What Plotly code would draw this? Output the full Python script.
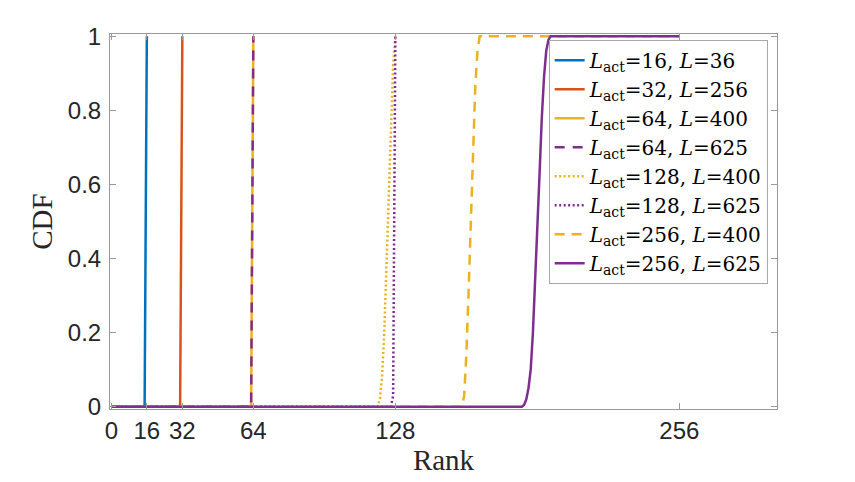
import plotly.graph_objects as go

# CDF of rank
rank_16_36 = [0, 15, 16]
cdf_16_36 = [0, 0, 1]

rank_32_256 = [0, 31, 32]
cdf_32_256 = [0, 0, 1]

rank_64_400 = [0, 63, 64]
cdf_64_400 = [0, 0, 1]

rank_64_625 = [0, 63, 64]
cdf_64_625 = [0, 0, 1]

rank_128_400 = [0, 120, 121, 122, 123, 124, 125, 126, 127, 128]
cdf_128_400 = [0, 0, 0.02, 0.08, 0.2, 0.38, 0.57, 0.76, 0.92, 1]

rank_128_625 = [0, 126, 127, 128]
cdf_128_625 = [0, 0, 0.03, 1]

rank_256_400 = [0, 158, 159, 160, 161, 162, 163, 164, 165, 166, 256]
cdf_256_400 = [0, 0, 0.03, 0.14, 0.31, 0.5, 0.7, 0.86, 0.96, 1, 1]

rank_256_625 = [0, 185, 186, 187, 188, 189, 190, 191, 192, 193, 194, 195, 196, 197, 198, 256]
cdf_256_625 = [0, 0, 0.005, 0.02, 0.05, 0.1, 0.2, 0.33, 0.48, 0.63, 0.78, 0.89, 0.96, 0.99, 1, 1]

x_ticks = [0, 16, 32, 64, 128, 256]
y_ticks = [0, 0.2, 0.4, 0.6, 0.8, 1]

BLUE = "#0072BD"
RED = "#D95319"
YELLOW = "#EDB120"
PURPLE = "#7E2F8E"

series = [
    (rank_16_36, cdf_16_36, 16, 36, BLUE, "solid"),
    (rank_32_256, cdf_32_256, 32, 256, RED, "solid"),
    (rank_64_400, cdf_64_400, 64, 400, YELLOW, "solid"),
    (rank_64_625, cdf_64_625, 64, 625, PURPLE, "10px,8px"),
    (rank_128_400, cdf_128_400, 128, 400, YELLOW, "2px,2.5px"),
    (rank_128_625, cdf_128_625, 128, 625, PURPLE, "2px,2.5px"),
    (rank_256_400, cdf_256_400, 256, 400, YELLOW, "10px,7px"),
    (rank_256_625, cdf_256_625, 256, 625, PURPLE, "solid"),
]

fig = go.Figure()
for xs, ys, lact, l, color, dash in series:
    fig.add_trace(go.Scatter(
        x=xs, y=ys, mode="lines",
        line=dict(color=color, width=2.5, dash=dash),
        name=f"<i>L</i><sub>act</sub>={lact},&nbsp;<i>L</i>={l}",
    ))

axis_style = dict(
    showgrid=False, zeroline=False, showline=True, mirror="ticks",
    linecolor="#9a9a9a", linewidth=1,
    ticks="inside", ticklen=6, tickcolor="#9a9a9a",
    tickfont=dict(family="Liberation Sans", size=24, color="#262626"),
)

fig.update_xaxes(
    range=[-0.6, 300], tickvals=x_ticks,
    title=dict(text="Rank", font=dict(family="Liberation Serif", size=29, color="#262626"),
               standoff=2),
    **axis_style,
)
fig.update_yaxes(
    range=[-0.006, 1.006], tickvals=y_ticks, ticktext=["0", "0.2", "0.4", "0.6", "0.8", "1"],
    ticklabelstandoff=3,
    title=dict(text="CDF", font=dict(family="Liberation Serif", size=29, color="#262626"),
               standoff=6),
    **axis_style,
)

# the page puts the figure a few px right and down, so the margins are shifted back
fig.update_layout(
    width=855, height=482,
    margin=dict(l=102, r=86, t=26, b=81),
    paper_bgcolor="white", plot_bgcolor="white",
    legend=dict(
        x=0.986, y=0.985, xanchor="right", yanchor="top",
        bgcolor="white", bordercolor="#a8a8a8", borderwidth=1,
        font=dict(family="DejaVu Serif", size=20, color="black"),
        itemwidth=30, tracegroupgap=0,
    ),
)

fig.write_html("out.html")
